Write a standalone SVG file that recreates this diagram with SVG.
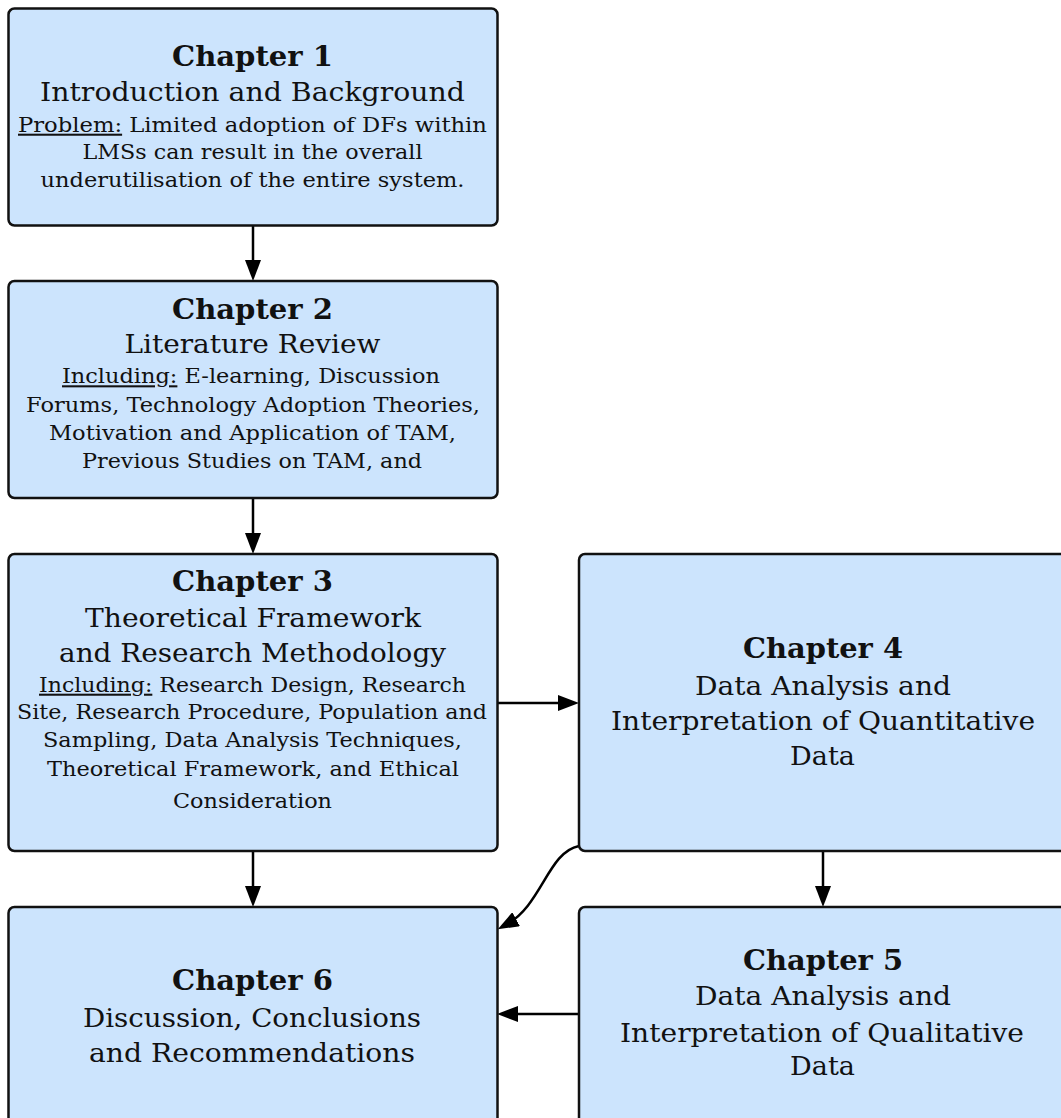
<svg xmlns="http://www.w3.org/2000/svg" width="1061" height="1118" viewBox="0 0 1061 1118">
  <defs>
    <style>
      .box { fill: #cce4fd; stroke: #111; stroke-width: 2.5; }
      text { font-family: "DejaVu Serif", "Liberation Serif", serif; fill: #111; text-anchor: middle; }
      .title { font-size: 28.5px; font-weight: bold; }
      .sub { font-size: 25.5px; }
      .body { font-size: 20.5px; }
      .u { text-decoration: underline; }
      .link { fill: none; stroke: #000; stroke-width: 2.5; }
    </style>
    <marker id="arrow" markerUnits="userSpaceOnUse" markerWidth="21" markerHeight="16" viewBox="0 0 21 16" refX="11" refY="8" orient="auto">
      <path d="M0,0 L21,8 L0,16 Z" fill="#000"/>
    </marker>
  </defs>

  <!-- connectors -->
  <g id="connectors">
    <path class="link" d="M253,225 V271" marker-end="url(#arrow)"/>
    <path class="link" d="M253,498 V544" marker-end="url(#arrow)"/>
    <path class="link" d="M253,851 V897" marker-end="url(#arrow)"/>
    <path class="link" d="M497,703 H569" marker-end="url(#arrow)"/>
    <path class="link" d="M823,851 V897" marker-end="url(#arrow)"/>
    <path class="link" d="M579,1014 H507" marker-end="url(#arrow)"/>
    <path class="link" d="M579,846 C548,852 542,905 506.5,924.5" marker-end="url(#arrow)"/>
  </g>

  <!-- Chapter 1 -->
  <g id="chapter1">
    <rect class="box" x="8.5" y="8.5" width="489" height="217" rx="6"/>
    <text class="title" x="252.5" y="65.7" textLength="161" lengthAdjust="spacingAndGlyphs">Chapter 1</text>
    <text class="sub" x="252.5" y="101" textLength="425" lengthAdjust="spacingAndGlyphs">Introduction and Background</text>
    <text class="body" x="252.5" y="131.7" textLength="469" lengthAdjust="spacingAndGlyphs"><tspan class="u">Problem:</tspan> Limited adoption of DFs within</text>
    <text class="body" x="252.5" y="159.3" textLength="340" lengthAdjust="spacingAndGlyphs">LMSs can result in the overall</text>
    <text class="body" x="252.5" y="186.7" textLength="424" lengthAdjust="spacingAndGlyphs">underutilisation of the entire system.</text>
  </g>

  <!-- Chapter 2 -->
  <g id="chapter2">
    <rect class="box" x="8.5" y="281" width="489" height="217" rx="6"/>
    <text class="title" x="252.5" y="319.3" textLength="161" lengthAdjust="spacingAndGlyphs">Chapter 2</text>
    <text class="sub" x="252.5" y="353.3" textLength="256" lengthAdjust="spacingAndGlyphs">Literature Review</text>
    <text class="body" x="251" y="383.3" textLength="378" lengthAdjust="spacingAndGlyphs"><tspan class="u">Including:</tspan> E-learning, Discussion</text>
    <text class="body" x="253" y="411.7" textLength="454" lengthAdjust="spacingAndGlyphs">Forums, Technology Adoption Theories,</text>
    <text class="body" x="252.5" y="440" textLength="407" lengthAdjust="spacingAndGlyphs">Motivation and Application of TAM,</text>
    <text class="body" x="252" y="468.3" textLength="340" lengthAdjust="spacingAndGlyphs">Previous Studies on TAM, and</text>
  </g>

  <!-- Chapter 3 -->
  <g id="chapter3">
    <rect class="box" x="8.5" y="554" width="489" height="297" rx="6"/>
    <text class="title" x="252.5" y="590.7" textLength="161" lengthAdjust="spacingAndGlyphs">Chapter 3</text>
    <text class="sub" x="253" y="626.7" textLength="336" lengthAdjust="spacingAndGlyphs">Theoretical Framework</text>
    <text class="sub" x="252.5" y="661.7" textLength="387" lengthAdjust="spacingAndGlyphs">and Research Methodology</text>
    <text class="body" x="252.5" y="691.7" textLength="427" lengthAdjust="spacingAndGlyphs"><tspan class="u">Including:</tspan> Research Design, Research</text>
    <text class="body" x="252" y="719" textLength="470" lengthAdjust="spacingAndGlyphs">Site, Research Procedure, Population and</text>
    <text class="body" x="252.5" y="747.3" textLength="419" lengthAdjust="spacingAndGlyphs">Sampling, Data Analysis Techniques,</text>
    <text class="body" x="253" y="775.7" textLength="412" lengthAdjust="spacingAndGlyphs">Theoretical Framework, and Ethical</text>
    <text class="body" x="252.5" y="808.3" textLength="159" lengthAdjust="spacingAndGlyphs">Consideration</text>
  </g>

  <!-- Chapter 4 -->
  <g id="chapter4">
    <rect class="box" x="579" y="554" width="490" height="297" rx="6"/>
    <text class="title" x="823" y="658.3" textLength="160" lengthAdjust="spacingAndGlyphs">Chapter 4</text>
    <text class="sub" x="823" y="695" textLength="256" lengthAdjust="spacingAndGlyphs">Data Analysis and</text>
    <text class="sub" x="823" y="730" textLength="424" lengthAdjust="spacingAndGlyphs">Interpretation of Quantitative</text>
    <text class="sub" x="822.5" y="765" textLength="65" lengthAdjust="spacingAndGlyphs">Data</text>
  </g>

  <!-- Chapter 5 -->
  <g id="chapter5">
    <rect class="box" x="579" y="907" width="490" height="230" rx="6"/>
    <text class="title" x="823" y="970" textLength="160" lengthAdjust="spacingAndGlyphs">Chapter 5</text>
    <text class="sub" x="823" y="1005" textLength="256" lengthAdjust="spacingAndGlyphs">Data Analysis and</text>
    <text class="sub" x="822" y="1041.7" textLength="404" lengthAdjust="spacingAndGlyphs">Interpretation of Qualitative</text>
    <text class="sub" x="822.5" y="1075" textLength="65" lengthAdjust="spacingAndGlyphs">Data</text>
  </g>

  <!-- Chapter 6 -->
  <g id="chapter6">
    <rect class="box" x="8.5" y="907" width="489" height="230" rx="6"/>
    <text class="title" x="252.5" y="990" textLength="161" lengthAdjust="spacingAndGlyphs">Chapter 6</text>
    <text class="sub" x="252" y="1026.7" textLength="338" lengthAdjust="spacingAndGlyphs">Discussion, Conclusions</text>
    <text class="sub" x="252" y="1061.7" textLength="326" lengthAdjust="spacingAndGlyphs">and Recommendations</text>
  </g>
</svg>
